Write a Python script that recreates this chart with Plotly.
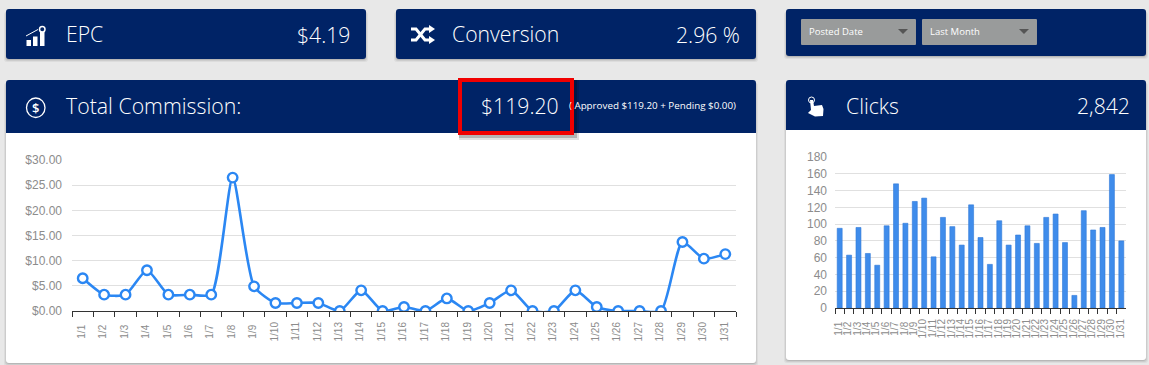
import plotly.graph_objects as go

W, H = 1149, 365
days = [f"1/{d}" for d in range(1, 32)]
commission = [6.5, 3.25, 3.25, 8.1, 3.25, 3.25, 3.25, 26.5, 4.9, 1.6, 1.6, 1.6, 0, 4.1, 0, 0.8,
              0, 2.5, 0, 1.6, 4.1, 0, 0, 4.1, 0.8, 0, 0, 0, 13.7, 10.4, 11.3]
clicks = [95, 63, 96, 65, 51, 98, 148, 101, 127, 131, 61, 108, 97, 75, 123, 84, 52, 104, 75, 87,
          98, 77, 108, 112, 78, 15, 116, 93, 96, 159, 80]
money_ticks = [0, 5, 10, 15, 20, 25, 30]
money_labels = ["$0.00", "$5.00", "$10.00", "$15.00", "$20.00", "$25.00", "$30.00"]
click_ticks = list(range(0, 181, 20))
# the reference centres its rotated labels, so the shorter ones get a trailing no-break space
day_labels = [d + "\u00a0" if len(d) == 3 else d for d in days]

NAVY = "#002366"
BLUE = "#2b87f3"
GREY = "#8c8c8c"
GRID = "#e0e0e0"
SANS = "Open Sans"
ARIAL = "Liberation Sans"


def px(x): return x / W
def py(y): return 1 - y / H


shapes, annos = [], []


def P(x, y): return f"{px(x):.5f},{py(y):.5f}"


def rounded(x0, y0, x1, y1, fill, rt=3, rb=3, layer="below"):
    d = (f"M{P(x0 + rt, y0)} L{P(x1 - rt, y0)} Q{P(x1, y0)} {P(x1, y0 + rt)} "
         f"L{P(x1, y1 - rb)} Q{P(x1, y1)} {P(x1 - rb, y1)} "
         f"L{P(x0 + rb, y1)} Q{P(x0, y1)} {P(x0, y1 - rb)} "
         f"L{P(x0, y0 + rt)} Q{P(x0, y0)} {P(x0 + rt, y0)} Z")
    shapes.append(dict(type="path", xref="paper", yref="paper", path=d, fillcolor=fill,
                       line=dict(width=0), layer=layer))


def rect(x0, y0, x1, y1, fill, line=None, lw=0, layer="below"):
    shapes.append(dict(type="rect", xref="paper", yref="paper", x0=px(x0), x1=px(x1), y0=py(y1), y1=py(y0),
                       fillcolor=fill, line=dict(color=line or fill, width=lw), layer=layer))


def card(x0, y0, x1, y1, fill):
    for o, a in ((3, .05), (2, .07), (1, .10)):
        rounded(x0 - o + 1, y0 + o, x1 + o - 1, y1 + o, f"rgba(0,0,0,{a})")
    rounded(x0, y0, x1, y1, fill)


def path(points, fill=None, line="white", lw=0, close=True, layer="above"):
    d = "M" + " L".join(P(a, b) for a, b in points) + (" Z" if close else "")
    shapes.append(dict(type="path", xref="paper", yref="paper", path=d, fillcolor=fill or "rgba(0,0,0,0)",
                       line=dict(color=line, width=lw), layer=layer))


def text(x, y, s, size, anchor="left", color="white", family=SANS, weight=300):
    annos.append(dict(xref="paper", yref="paper", x=px(x), y=py(y), text=s, showarrow=False, xanchor=anchor,
                      yanchor="middle", xshift=0, borderpad=0, borderwidth=0,
                      font=dict(size=size, color=color, family=family, weight=weight)))


# cards
card(6, 9, 366, 59, NAVY)
card(396, 9, 756, 59, NAVY)
card(786, 9, 1146, 56, NAVY)
card(6, 80, 756, 363, "white")
rounded(6, 80, 756, 133, NAVY, rb=0)
card(786, 80, 1146, 360, "white")
rounded(786, 80, 1146, 130, NAVY, rb=0)

# header text
text(66, 33.5, "EPC", 21.2)
text(350, 34.5, "$4.19", 21.2, "right")
text(452, 33.5, "Conversion", 21.2)
text(740, 34.5, "2.96 %", 21.2, "right")
text(66, 105.5, "Total Commission:", 21.3)
text(559, 105.5, "$119.20", 21.2, "right")
text(736, 106, "( Approved $119.20 + Pending $0.00)", 9.8, "right", weight=400)
text(846, 105, "Clicks", 21.2)
text(1130, 105.5, "2,842", 21.2, "right")

# dropdowns
for x0, label in ((801, "Posted Date"), (922, "Last Month")):
    rounded(x0, 19, x0 + 115, 45, "#999b9b", rt=1, rb=1)
    text(x0 + 8, 31.5, label, 9.5, weight=500)
    path([(x0 + 97, 29), (x0 + 107, 29), (x0 + 102, 34)], fill="#555555")

# EPC icon
for x0, y0 in ((26.5, 40), (33, 36.5), (40, 32)):
    rect(x0, y0, x0 + 4.5, 46, "white", layer="above")
path([(26, 36), (38, 29.5)], lw=1, close=False)
shapes.append(dict(type="circle", xref="paper", yref="paper", x0=px(39.5), x1=px(45), y0=py(32), y1=py(26.5),
                   line=dict(color="white", width=1.5)))

# dollar icon
shapes.append(dict(type="circle", xref="paper", yref="paper", x0=px(26.5), x1=px(45), y0=py(117.5), y1=py(98),
                   line=dict(color="white", width=1.3)))
text(35.7, 108, "$", 13, "center", weight=600)

# shuffle icon
path([(411, 29), (416, 29), (425, 40), (430, 40)], lw=3, close=False)
path([(411, 40), (416, 40), (425, 29), (430, 29)], lw=3, close=False)
path([(429, 25), (435, 29), (429, 33)], fill="white")
path([(429, 36), (435, 40), (429, 44)], fill="white")

# hand icon
shapes.append(dict(type="circle", xref="paper", yref="paper", x0=px(808.5), x1=px(814.5), y0=py(103), y1=py(97),
                   line=dict(color="white", width=1)))
path([(810, 100), (813, 100), (814, 106), (822, 105), (823.5, 109), (823, 116), (815, 116.5), (808, 113), (811, 110)],
     fill="white")

fig = go.Figure()
fig.add_trace(go.Scatter(x=days, y=commission, mode="lines+markers", xaxis="x", yaxis="y",
                         line=dict(color=BLUE, width=2.6, shape="spline", smoothing=0.6),
                         marker=dict(size=9.5, color="white", line=dict(color=BLUE, width=2.4))))
fig.add_trace(go.Bar(x=days, y=clicks, xaxis="x2", yaxis="y2", marker=dict(color="#3f8ceb", line=dict(color="#2f78d8", width=0.6))))


def xaxis(x0, x1, size):
    return dict(domain=[px(x0), px(x1)], type="category", categoryorder="array", categoryarray=days,
                range=[-0.5, 30.5], tickson="boundaries", ticks="outside", ticklen=5, tickwidth=1, tickcolor="#333333",
                showline=True, linecolor="#333333", linewidth=1, showgrid=False, tickangle=-90, zeroline=False,
                tickmode="array", tickvals=days, ticktext=day_labels, automargin=False, ticklabelshift=-1,
                tickfont=dict(family=ARIAL, size=size, color=GREY), ticklabelstandoff=6)


def yaxis(y0, y1, top, standoff):
    return dict(domain=[py(y0), py(y1)], range=[0, top], showgrid=True, gridcolor=GRID, gridwidth=1, zeroline=False,
                showline=False, automargin=False, tickfont=dict(family=ARIAL, size=12, color=GREY),
                ticklabelstandoff=standoff)


fig.update_layout(
    width=W, height=H, margin=dict(l=0, r=0, t=0, b=0, pad=0), autosize=False, showlegend=False,
    paper_bgcolor="#e8e8e8", plot_bgcolor="rgba(0,0,0,0)", bargap=0.47,
    xaxis=xaxis(72, 736, 10),
    yaxis=dict(yaxis(311, 160, 30, 9), tickvals=money_ticks, ticktext=money_labels),
    xaxis2=xaxis(835, 1126, 10),
    yaxis2=dict(yaxis(308, 157, 180, 7), tickvals=click_ticks, anchor="x2"),
    shapes=shapes, annotations=annos,
)
fig.layout.xaxis2.anchor = "y2"

# red highlight around the total, kept above the caption as in the reference
top = list(fig.layout.shapes)
for o, a in ((5, .12), (3, .2)):
    top.append(dict(type="rect", xref="paper", yref="paper", x0=px(459), x1=px(574 + o), y0=py(135 + o), y1=py(80),
                    fillcolor=f"rgba(0,0,0,{a})", line=dict(width=0), layer="above"))
top.append(dict(type="rect", xref="paper", yref="paper", x0=px(460), x1=px(572), y0=py(133), y1=py(80),
                fillcolor=NAVY, line=dict(color="#f00000", width=4), layer="above"))
fig.layout.shapes = top

post = """
document.documentElement.style.margin='0';
document.body.style.margin='0';
document.body.style.overflow='hidden';
"""
fig.write_html("out.html", post_script=post, config=dict(displayModeBar=False))
